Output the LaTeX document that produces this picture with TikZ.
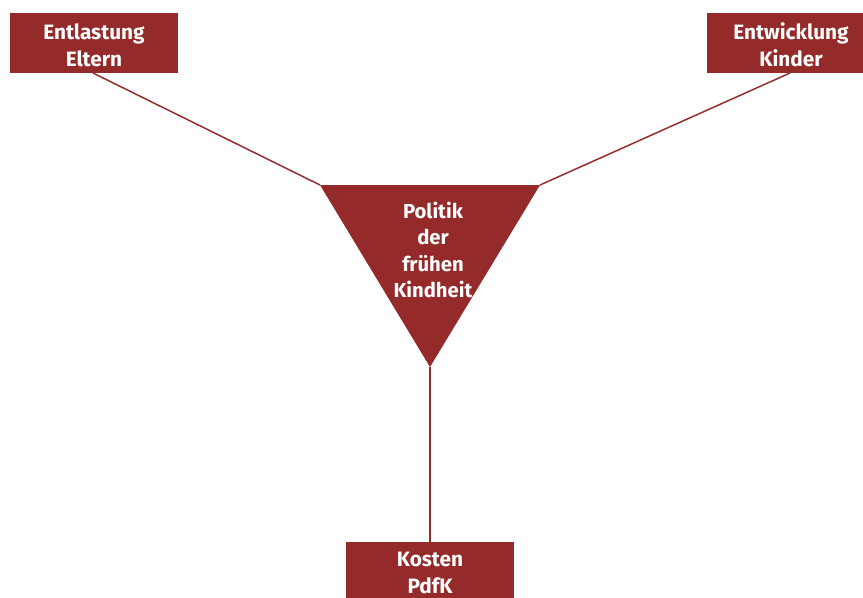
\documentclass[tikz,border=0pt]{standalone}
\usepackage{fontspec}
\setmainfont{Fira Sans}
\begin{document}
\begin{tikzpicture}[x=0.75pt,y=-0.75pt,
  every node/.style={inner sep=0pt,outer sep=0pt},
  label text/.style={text=white,align=center,font=\fontsize{15.6}{20}\selectfont\bfseries},
  box/.style={fill=wine},
  link/.style={draw=wine,line width=1.1pt}]
\definecolor{wine}{HTML}{952A2B}
\useasboundingbox (0,0) rectangle (863,597);
% boxes
\node[box,minimum width=168*0.75pt,minimum height=60*0.75pt] (eltern) at (93.5,43) {};
\node[label text] (elternText) at (94,45) {Entlastung\\Eltern};
\node[box,minimum width=156*0.75pt,minimum height=60*0.75pt] (kinder) at (785,43) {};
\node[label text] (kinderText) at (791,45) {Entwicklung\\Kinder};
\node[box,minimum width=168*0.75pt,minimum height=56*0.75pt] (kosten) at (430,570) {};
\node[label text] (kostenText) at (430,573) {Kosten\\PdfK};
% central triangle
\coordinate (tl) at (320,185);
\coordinate (tr) at (540,185);
\coordinate (tb) at (430,367);
\fill[wine] (tl) -- (tr) -- (tb) -- cycle;
\node[label text,font=\fontsize{15.2}{19.8}\selectfont\bfseries] (politik) at (433,250) {Politik\\der\\frühen\\Kindheit};
% connectors
\draw[link] (93,73) coordinate (ea) -- (tl);
\draw[link] (790,73) coordinate (ka) -- (tr);
\draw[link] (tb) -- (kosten.north);
\end{tikzpicture}
\end{document}
